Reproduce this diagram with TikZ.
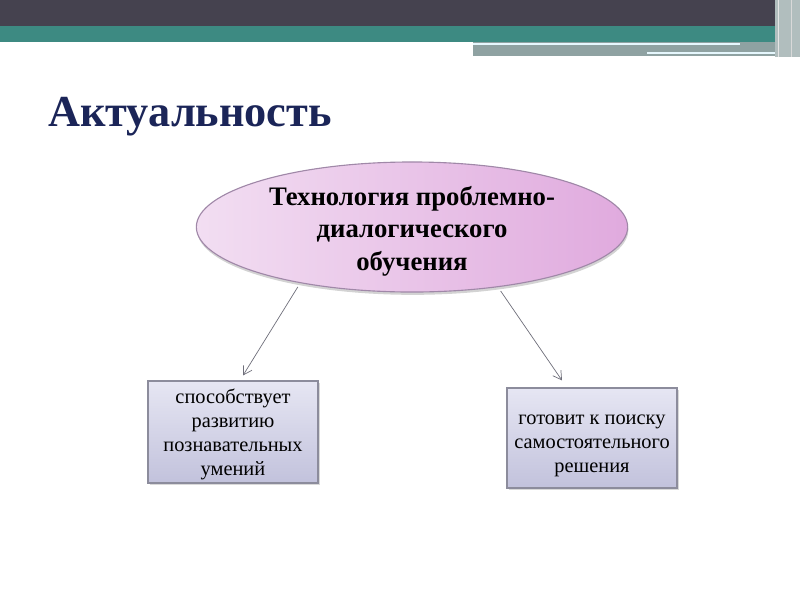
\documentclass[tikz,border=0pt]{standalone}
\usepackage{fontspec}
\setmainfont{Liberation Serif}
\usetikzlibrary{positioning, shapes.geometric, shadows, arrows.meta, calc}

\definecolor{barDark}{HTML}{45424F}
\definecolor{barTeal}{HTML}{3D8A82}
\definecolor{barGray}{HTML}{8FA2A2}
\definecolor{titleBlue}{HTML}{1B2558}
\definecolor{ellLight}{HTML}{F2DEF2}
\definecolor{ellPink}{HTML}{E0AADE}
\definecolor{ellLine}{HTML}{A088A8}
\definecolor{boxLight}{HTML}{E6E6F3}
\definecolor{boxDark}{HTML}{C2C2DC}
\definecolor{boxLine}{HTML}{8C8C9C}
\definecolor{arrowGray}{HTML}{6E6E7A}

% text lines set a little lower than the node centre
\newcommand{\lowtext}[2]{\raisebox{-#1}[\height][\depth]{\begin{tabular}{@{}c@{}}#2\end{tabular}}}

\begin{document}
\begin{tikzpicture}[x=0.025cm, y=-0.025cm, >={Straight Barb[length=6pt, width=7pt]},
    idea/.style={ellipse, draw=ellLine, thick, left color=ellLight, right color=ellPink,
        minimum width=10.78cm, minimum height=3.25cm, inner sep=-8pt,
        drop shadow={shadow xshift=0.5pt, shadow yshift=-2pt, opacity=0.35},
        font=\fontsize{19}{23}\selectfont\bfseries},
    result/.style={rectangle, draw=boxLine, thick, shading angle=135,
        top color=boxLight, bottom color=boxDark,
        minimum width=4.25cm, inner sep=0pt,
        drop shadow={shadow xshift=1.5pt, shadow yshift=-1.5pt, opacity=0.3},
        font=\fontsize{14.5}{17}\selectfont},
    link/.style={->, draw=arrowGray, line width=0.5pt}]
    \useasboundingbox (0,0) rectangle (800,600);

    % Header bands
    \fill[barDark] (0,0) rectangle (800,26);
    \fill[barTeal] (0,26) rectangle (783,42);
    \fill[barGray] (473,42) rectangle (783,56);
    \draw[white!90!cyan, line width=1.2pt] (473,44) -- (740,44);
    \draw[white!90!cyan, line width=1.2pt] (647,53) -- (783,53);
    \fill[barGray!70] (775,0) rectangle (800,57);
    \draw[white!80!gray] (778,0) -- (778,57);
    \draw[white!70!gray] (791,0) -- (791,57);

    % Title
    \node[anchor=base west, inner sep=0pt, text=titleBlue,
        font=\fontsize{31.5}{38}\selectfont\bfseries] (title) at (48,126) {Актуальность};

    % Nodes
    \node[idea] (tech) at (412,227)
        {\lowtext{3pt}{Технология проблемно-\\диалогического\\обучения}};
    \node[result, minimum height=2.55cm] (skills) at (233,432)
        {\lowtext{2pt}{способствует\\развитию\\познавательных\\умений}};
    \node[result, minimum height=2.5cm] (search) at (592,438)
        {\lowtext{4pt}{готовит к поиску\\самостоятельного\\решения}};

    % Paths
    \draw[link] ([yshift=-3pt]tech.206) -- ($(skills.north)+(10,-5)$);
    \draw[link] ([yshift=-3pt]tech.326) -- ($(search.north)+(-30,-7)$);
\end{tikzpicture}
\end{document}
